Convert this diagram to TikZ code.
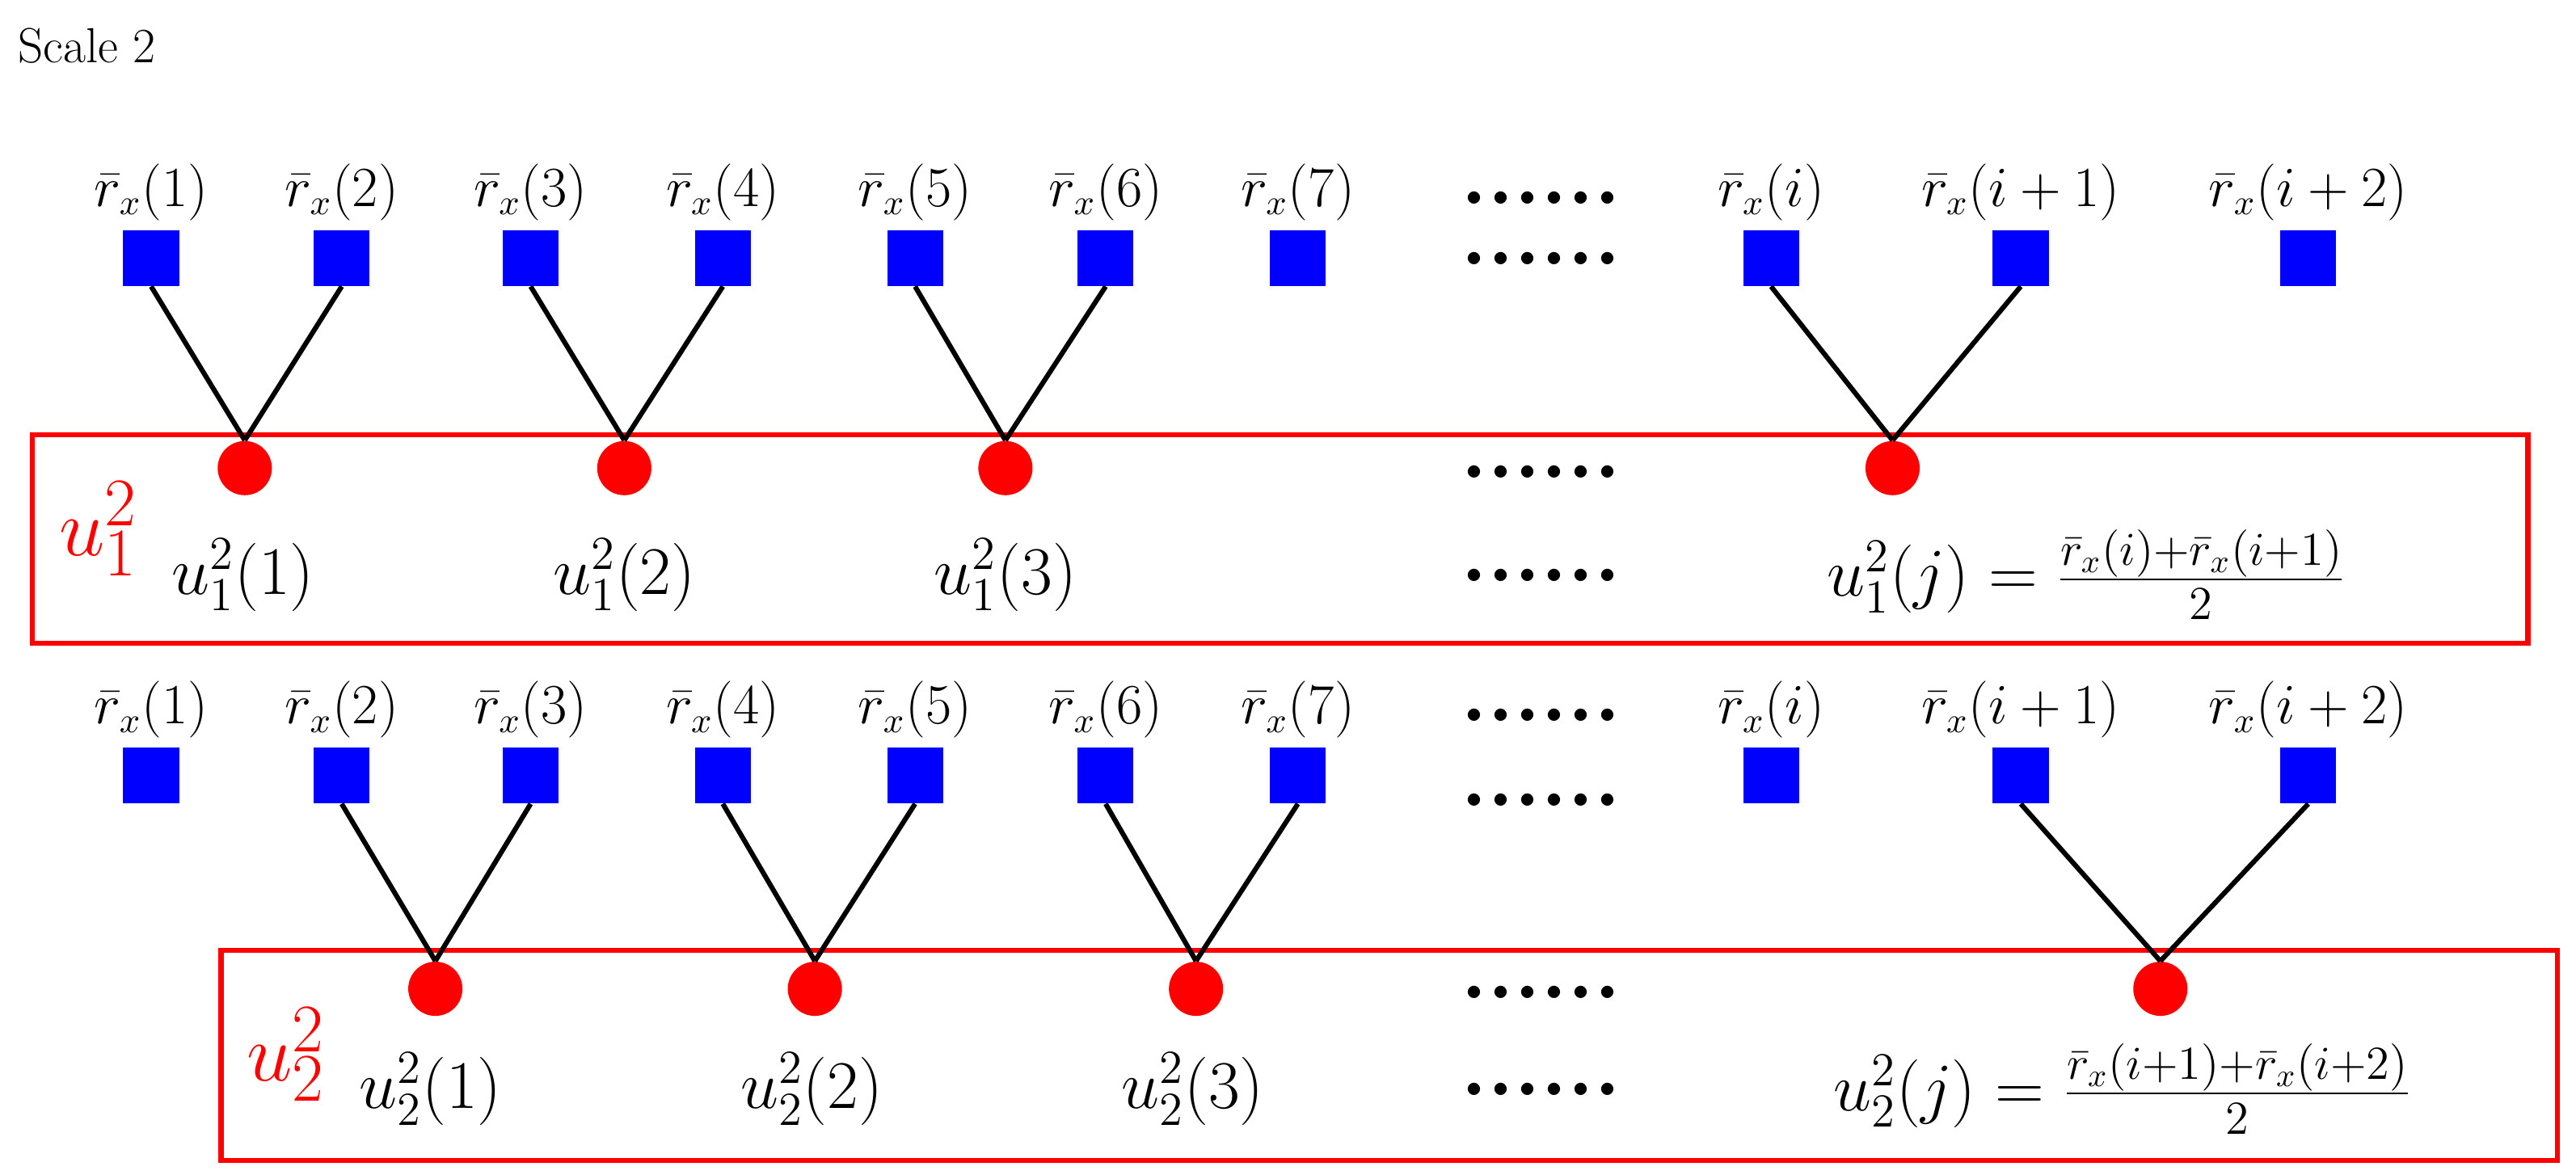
\documentclass[tikz,border=0pt]{standalone}
\begin{document}
\begin{tikzpicture}[x=0.5pt,y=-0.5pt,
  sq/.style={fill=blue,minimum size=17pt,inner sep=0,draw=none},
  ci/.style={circle,fill=red,minimum size=16.5pt,inner sep=0},
  lab/.style={font=\fontsize{16}{18}\selectfont},
  ul/.style={font=\fontsize{20}{22}\selectfont},
  big/.style={text=red,font=\fontsize{30}{32}\selectfont},
  dots/.style={font=\fontsize{26}{26}\selectfont\bfseries,inner sep=0pt,text height=4pt,text depth=0pt},
  ln/.style={line width=1.5pt},
  bx/.style={draw=red,line width=1.6pt}]
\useasboundingbox (0,0) rectangle (1568,715);
\node[anchor=west,font=\fontsize{15}{17}\selectfont] (t) at (4,28) {Scale 2};
% boxes
\node[bx,minimum width=759.5pt,minimum height=63.5pt,anchor=north west] (b1) at (18,263) {};
\node[bx,minimum width=711pt,minimum height=64pt,anchor=north west] (b2) at (133,577) {};
\node[big] (U1) at (60,322) {$u_1^2$};
\node[big] (U2) at (174,642) {$u_2^2$};
% rows
\foreach \n/\x/\t in {1/92/1,2/208/2,3/323/3,4/440/4,5/557/5,6/673/6,7/790/7,8/1078/i,9/1230/i+1,10/1405/i+2}{
  \node[lab] (tl\n) at (\x,117) {$\bar r_x(\t)$};
  \node[sq] (ts\n) at (\x,157) {};
  \node[lab] (bl\n) at (\x,432) {$\bar r_x(\t)$};
  \node[sq] (bs\n) at (\x,472) {};
}
\foreach \n/\x in {1/149,2/380,3/612,4/1152}{\node[ci] (tc\n) at (\x,285) {};}
\foreach \n/\x in {1/265,2/496,3/728,4/1315}{\node[ci] (bc\n) at (\x,602) {};}
\foreach \a/\b/\c in {1/2/1,3/4/2,5/6/3,8/9/4}{
  \draw[ln] (ts\a.south) -- (tc\c.north); \draw[ln] (ts\b.south) -- (tc\c.north);}
\foreach \a/\b/\c in {2/3/1,4/5/2,6/7/3,9/10/4}{
  \draw[ln] (bs\a.south) -- (bc\c.north); \draw[ln] (bs\b.south) -- (bc\c.north);}
\foreach \n/\x in {1/148,2/380,3/612}{\node[ul] (tu\n) at (\x,350) {$u_1^2(\n)$};}
\foreach \n/\x in {1/262,2/494,3/726}{\node[ul] (bu\n) at (\x,663) {$u_2^2(\n)$};}
\node[ul] (tf) at (1270,350) {$u_1^2(j)=\frac{\bar r_x(i)+\bar r_x(i+1)}{2}$};
\node[ul] (bf) at (1292,663) {$u_2^2(j)=\frac{\bar r_x(i+1)+\bar r_x(i+2)}{2}$};
\foreach \y [count=\k] in {120,157,287,350,435,487,604,663}{\node[dots] (d\k) at (938,\y) {......};}
\end{tikzpicture}
\end{document}
